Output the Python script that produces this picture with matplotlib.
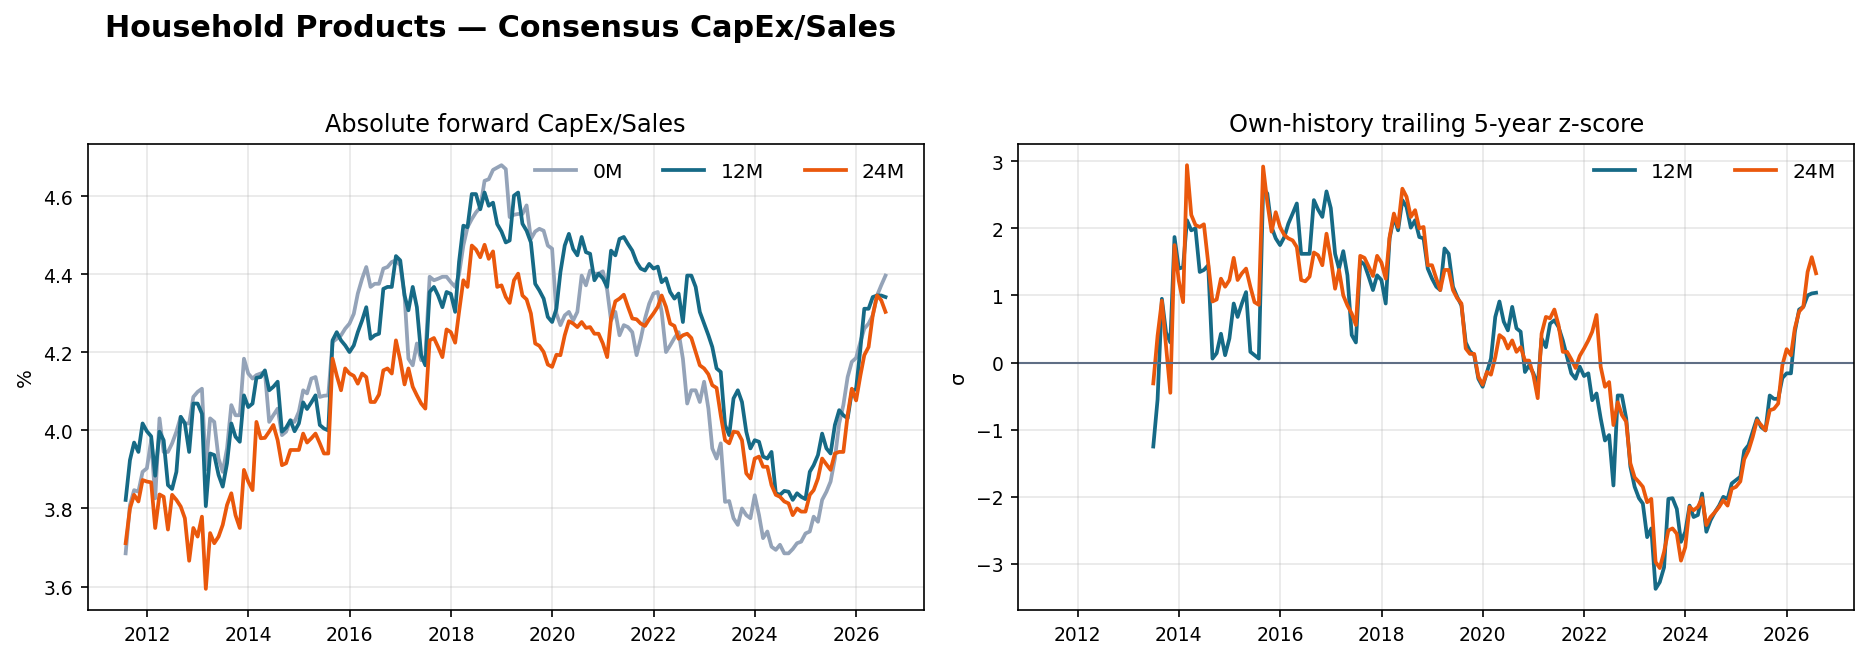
import numpy as np
import pandas as pd
import matplotlib
matplotlib.use("Agg")
import matplotlib.pyplot as plt

# monthly, Jul-2011 .. Jul-2026
dates = pd.date_range("2011-07-31", periods=181, freq="ME")

# absolute forward CapEx/Sales (%)
capex_0m = [
    3.685, 3.809, 3.847, 3.843, 3.894, 3.903, 3.975, 3.826, 4.031, 3.945, 3.945, 3.967,
    3.997, 4.035, 4.018, 4.018, 4.086, 4.099, 4.107, 3.900, 4.031, 4.022, 3.928, 3.894,
    3.954, 4.065, 4.039, 4.039, 4.184, 4.146, 4.133, 4.142, 4.146, 4.150, 4.022, 4.039,
    4.056, 3.988, 3.997, 4.026, 4.022, 4.048, 4.103, 4.095, 4.133, 4.137, 4.086, 4.089,
    4.090, 4.227, 4.235, 4.244, 4.261, 4.274, 4.299, 4.351, 4.389, 4.419, 4.368, 4.376,
    4.376, 4.415, 4.419, 4.432, 4.436, 4.423, 4.346, 4.184, 4.167, 4.223, 4.180, 4.190,
    4.394, 4.385, 4.389, 4.394, 4.394, 4.380, 4.368, 4.400, 4.474, 4.521, 4.542, 4.559,
    4.572, 4.640, 4.644, 4.668, 4.674, 4.680, 4.670, 4.547, 4.553, 4.555, 4.555, 4.577,
    4.491, 4.510, 4.517, 4.512, 4.474, 4.466, 4.300, 4.270, 4.295, 4.304, 4.282, 4.304,
    4.397, 4.372, 4.410, 4.402, 4.402, 4.408, 4.360, 4.282, 4.304, 4.244, 4.270, 4.265,
    4.252, 4.193, 4.235, 4.287, 4.325, 4.351, 4.355, 4.304, 4.201, 4.218, 4.237, 4.252,
    4.184, 4.069, 4.103, 4.103, 4.073, 4.125, 4.056, 3.954, 3.928, 3.967, 3.817, 3.819,
    3.775, 3.758, 3.800, 3.783, 3.775, 3.834, 3.783, 3.724, 3.741, 3.702, 3.694, 3.707,
    3.685, 3.685, 3.696, 3.711, 3.715, 3.736, 3.741, 3.779, 3.766, 3.822, 3.843, 3.869,
    3.928, 4.018, 4.065, 4.137, 4.176, 4.186, 4.227, 4.261, 4.274, 4.295, 4.346, 4.372,
    4.397,
]
capex_12m = [
    3.822, 3.924, 3.969, 3.945, 4.018, 3.998, 3.985, 3.884, 3.997, 3.975, 3.860, 3.850,
    3.894, 4.035, 4.018, 3.945, 4.069, 4.069, 4.043, 3.806, 3.941, 3.937, 3.886, 3.856,
    3.916, 4.018, 3.984, 3.971, 4.090, 4.060, 4.069, 4.135, 4.137, 4.154, 4.103, 4.112,
    4.125, 3.997, 4.007, 4.026, 3.998, 4.018, 4.072, 4.055, 4.072, 4.090, 4.014, 4.005,
    4.000, 4.231, 4.252, 4.231, 4.218, 4.201, 4.218, 4.252, 4.282, 4.316, 4.235, 4.244,
    4.248, 4.363, 4.368, 4.368, 4.447, 4.436, 4.346, 4.308, 4.368, 4.316, 4.193, 4.167,
    4.355, 4.368, 4.346, 4.316, 4.355, 4.350, 4.304, 4.432, 4.525, 4.521, 4.606, 4.606,
    4.567, 4.610, 4.576, 4.584, 4.529, 4.510, 4.482, 4.487, 4.602, 4.610, 4.530, 4.512,
    4.482, 4.376, 4.359, 4.338, 4.291, 4.278, 4.312, 4.406, 4.474, 4.504, 4.465, 4.449,
    4.496, 4.457, 4.453, 4.385, 4.402, 4.390, 4.368, 4.461, 4.449, 4.491, 4.496, 4.478,
    4.461, 4.432, 4.415, 4.410, 4.427, 4.415, 4.420, 4.380, 4.390, 4.355, 4.338, 4.351,
    4.278, 4.397, 4.397, 4.368, 4.304, 4.274, 4.244, 4.214, 4.159, 4.150, 4.014, 3.988,
    4.082, 4.103, 4.073, 3.997, 3.954, 3.975, 3.971, 3.933, 3.928, 3.945, 3.839, 3.835,
    3.845, 3.843, 3.822, 3.839, 3.830, 3.824, 3.894, 3.911, 3.937, 3.992, 3.954, 3.941,
    4.014, 4.052, 4.039, 4.031, 4.099, 4.107, 4.210, 4.312, 4.312, 4.342, 4.346, 4.346,
    4.342,
]
capex_24m = [
    3.711, 3.800, 3.835, 3.818, 3.873, 3.869, 3.867, 3.750, 3.836, 3.830, 3.746, 3.835,
    3.822, 3.805, 3.775, 3.666, 3.750, 3.728, 3.779, 3.594, 3.737, 3.711, 3.728, 3.758,
    3.809, 3.839, 3.783, 3.750, 3.899, 3.869, 3.847, 4.022, 3.980, 3.981, 3.997, 4.014,
    3.975, 3.911, 3.916, 3.950, 3.950, 3.950, 3.992, 3.969, 3.980, 3.992, 3.967, 3.941,
    3.941, 4.184, 4.141, 4.103, 4.159, 4.146, 4.140, 4.120, 4.146, 4.137, 4.073, 4.073,
    4.092, 4.154, 4.159, 4.146, 4.231, 4.180, 4.118, 4.159, 4.112, 4.090, 4.069, 4.056,
    4.231, 4.237, 4.214, 4.188, 4.259, 4.252, 4.225, 4.304, 4.385, 4.368, 4.474, 4.464,
    4.444, 4.476, 4.440, 4.459, 4.368, 4.372, 4.342, 4.327, 4.385, 4.402, 4.346, 4.336,
    4.300, 4.223, 4.217, 4.201, 4.169, 4.163, 4.194, 4.193, 4.244, 4.280, 4.274, 4.265,
    4.278, 4.263, 4.265, 4.248, 4.248, 4.223, 4.188, 4.287, 4.331, 4.338, 4.348, 4.317,
    4.287, 4.285, 4.274, 4.268, 4.285, 4.300, 4.317, 4.346, 4.317, 4.274, 4.268, 4.235,
    4.244, 4.248, 4.237, 4.201, 4.167, 4.159, 4.144, 4.116, 4.109, 4.039, 3.975, 3.967,
    3.997, 3.995, 3.975, 3.890, 3.877, 3.928, 3.933, 3.907, 3.907, 3.860, 3.835, 3.830,
    3.818, 3.813, 3.783, 3.800, 3.792, 3.792, 3.835, 3.847, 3.877, 3.928, 3.913, 3.899,
    3.941, 3.945, 3.945, 4.039, 4.107, 4.077, 4.141, 4.193, 4.214, 4.295, 4.346, 4.334,
    4.304,
]

# trailing 5y z-score, first value Jun-2013 (index 23)
z_start = 23
z_12m = [
    -1.25, -0.55, 0.95, 0.45, 0.30, 1.87, 1.40, 1.42, 2.12, 1.97, 2.00, 1.35, 1.38,
    1.45, 0.06, 0.14, 0.43, 0.11, 0.36, 0.88, 0.68, 0.88, 1.05, 0.16, 0.11, 0.06,
    2.59, 2.52, 2.02, 1.85, 1.75, 1.87, 2.07, 2.22, 2.37, 1.62, 1.62, 1.62, 2.42,
    2.28, 2.17, 2.55, 2.30, 1.62, 1.40, 1.66, 1.30, 0.41, 0.30, 1.51, 1.46, 1.28,
    1.08, 1.30, 1.23, 0.88, 1.85, 2.17, 1.97, 2.42, 2.32, 2.01, 2.12, 1.87, 1.85,
    1.40, 1.25, 1.13, 1.08, 1.70, 1.62, 1.13, 0.98, 0.85, 0.30, 0.17, 0.11, -0.24,
    -0.36, -0.14, 0.06, 0.68, 0.91, 0.61, 0.48, 0.83, 0.51, 0.46, -0.14, -0.04, -0.16,
    -0.34, 0.36, 0.23, 0.58, 0.63, 0.53, 0.33, 0.08, -0.16, -0.24, -0.06, -0.20, -0.16,
    -0.56, -0.46, -0.83, -1.16, -1.08, -1.83, -0.49, -0.49, -0.83, -1.55, -1.85, -2.02,
    -2.10, -2.60, -2.47, -3.37, -3.27, -3.05, -2.03, -2.02, -2.18, -2.67, -2.52, -2.13,
    -2.30, -2.27, -1.95, -2.52, -2.35, -2.23, -2.13, -2.00, -2.03, -1.80, -1.75, -1.70,
    -1.31, -1.23, -1.03, -0.83, -0.96, -1.01, -0.49, -0.54, -0.54, -0.23, -0.16, -0.16,
    0.46, 0.79, 0.83, 1.00, 1.03, 1.04,
]
z_24m = [
    -0.31, 0.40, 0.92, 0.25, -0.45, 1.75, 1.22, 0.90, 2.94, 2.20, 2.05, 2.02, 2.06,
    1.48, 0.91, 0.94, 1.25, 1.13, 1.23, 1.56, 1.23, 1.33, 1.40, 1.13, 0.90, 0.86,
    2.92, 2.39, 1.95, 2.24, 2.02, 1.90, 1.85, 1.82, 1.72, 1.23, 1.21, 1.28, 1.64,
    1.60, 1.45, 1.92, 1.55, 1.10, 1.38, 1.00, 0.85, 0.73, 0.56, 1.59, 1.56, 1.43,
    1.29, 1.59, 1.49, 1.25, 1.87, 2.22, 2.02, 2.59, 2.47, 2.17, 2.27, 2.00, 2.02,
    1.45, 1.45, 1.25, 1.08, 1.38, 1.38, 1.08, 0.96, 0.88, 0.21, 0.13, 0.13, -0.21,
    -0.33, -0.14, -0.18, 0.08, 0.41, 0.36, 0.21, 0.33, 0.16, 0.23, 0.03, 0.03, -0.19,
    -0.53, 0.43, 0.68, 0.66, 0.79, 0.56, 0.16, 0.16, 0.05, -0.08, 0.10, 0.21, 0.33,
    0.46, 0.71, -0.06, -0.36, -0.29, -0.93, -0.59, -0.78, -0.88, -1.50, -1.71, -1.78,
    -1.85, -2.08, -2.03, -2.97, -3.06, -2.82, -2.50, -2.47, -2.55, -2.95, -2.75, -2.15,
    -2.20, -2.15, -2.02, -2.42, -2.30, -2.23, -2.15, -2.05, -2.13, -1.88, -1.85, -1.77,
    -1.44, -1.31, -1.11, -0.86, -0.93, -1.01, -0.71, -0.69, -0.61, -0.04, 0.20, 0.11,
    0.51, 0.76, 0.83, 1.35, 1.57, 1.33,
]

colors = {"0M": "#94a3b8", "12M": "#166a86", "24M": "#ea580c"}
lw = 1.8

fig, (ax1, ax2) = plt.subplots(1, 2, figsize=(12.46, 4.393), dpi=150, sharex=True)
fig.subplots_adjust(left=0.0469, right=0.992, bottom=0.0728, top=0.780, wspace=0.1133)

ax1.plot(dates, capex_0m, color=colors["0M"], lw=lw, label="0M")
ax1.plot(dates, capex_12m, color=colors["12M"], lw=lw, label="12M")
ax1.plot(dates, capex_24m, color=colors["24M"], lw=lw, label="24M")
ax1.set_title("Absolute forward CapEx/Sales", fontsize=11.5)
ax1.set_ylabel("%", fontsize=9.5)
ax1.legend(loc="upper right", ncol=3, frameon=False, fontsize=9.8)

zd = dates[z_start:]
ax2.plot(zd, z_12m, color=colors["12M"], lw=lw, label="12M")
ax2.plot(zd, z_24m, color=colors["24M"], lw=lw, label="24M")
ax2.axhline(0, color="#5f6e85", lw=1.0)
ax2.set_title("Own-history trailing 5-year z-score", fontsize=11.5)
ax2.set_ylabel("σ", fontsize=9.5)
ax2.legend(loc="upper right", ncol=2, frameon=False, fontsize=9.8)

for ax in (ax1, ax2):
    ax.grid(True, alpha=0.3)
    ax.tick_params(labelsize=9)

fig.text(0.056, 0.957, "Household Products — Consensus CapEx/Sales",
         fontsize=14.5, fontweight="bold", ha="left", va="center")

fig.savefig("out.png", dpi=150)
